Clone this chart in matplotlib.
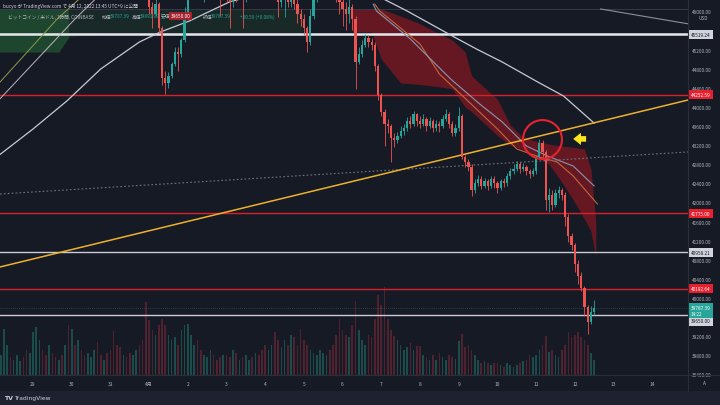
import numpy as np
import matplotlib
matplotlib.use("Agg")
import matplotlib.pyplot as plt
from matplotlib.ticker import FuncFormatter
from matplotlib.patches import Rectangle

plt.rcParams["font.family"] = ["Noto Sans CJK JP", "DejaVu Sans"]

W, H = 720, 406

# ---------------------------------------------------------------------------
# BTC/USD, 2-hour candles; time in hours from 29 Mar 00:00 (UTC+9)
# ---------------------------------------------------------------------------
candle_hours = np.arange(-20, 349, 2)
first_open = 47150.0

close = np.array([
    47250, 47400, 47600, 47350, 47500, 47700, 47850, 47600, 47450, 47550,                # 28
    47650, 47800, 47900, 47700, 47500, 47600, 47400, 47300, 47500, 47300, 47400, 47250,  # 29
    47300, 47100, 47200, 47000, 46900, 47100, 47300, 47500, 47300, 47200, 47400, 47300,  # 30
    47200, 47000, 46900, 46800, 46900, 46700, 46600, 46800, 46900, 46700, 46550, 46400,  # 31
    46100, 45950, 46150, 45650, 44600, 44500, 44650, 44900, 45150, 45100, 45400, 45950,  # 1
    46400, 46600, 46800, 46700, 46500, 46600, 46900, 47000, 46800, 46700, 46500, 46600,  # 2
    46300, 46200, 46400, 46350, 46500, 46300, 46400, 46600, 46500, 46700, 46600, 46500,  # 3
    46450, 46500, 46600, 46400, 46200, 46300, 46350, 46200, 46300, 46150, 45950, 45850,  # 4
    45650, 45350, 45900, 46300, 46500, 46700, 46800, 46900, 46700, 46500, 46300, 46200,  # 5
    46050, 45950, 46100, 45850, 44950, 45100, 45300, 45450, 45350, 45300, 44850, 44250,  # 6
    43900, 43650, 43600, 43350, 43300, 43400, 43500, 43550, 43700, 43650, 43850, 43700,  # 7
    43650, 43750, 43600, 43700, 43550, 43650, 43600, 43750, 43850, 43650, 43450, 43550,  # 8
    43800, 42950, 42850, 42750, 42250, 42400, 42500, 42350, 42450, 42350, 42500, 42400,  # 9
    42300, 42450, 42400, 42550, 42650, 42700, 42800, 42700, 42750, 42650, 42600, 42650,  # 10
    42950, 43250, 43050, 42050, 42150, 41950, 42200, 42250, 42150, 41700, 41300, 41100,  # 11
    40700, 40450, 40200, 39800, 39500, 39700, 39787.39,                                  # 12
])
high = np.array([
    47350, 47480, 47700, 47650, 47580, 47780, 47950, 47900, 47650, 47620,
    47720, 47900, 48050, 47950, 47750, 47680, 47650, 47450, 47580, 47550, 47480, 47450,
    47400, 47350, 47300, 47250, 47050, 47150, 47380, 47600, 47550, 47350, 47450, 47480,
    47350, 47250, 47050, 46950, 46980, 46950, 46750, 46850, 47000, 46950, 46750, 46600,
    46450, 46200, 46250, 46200, 45700, 44750, 44720, 44950, 45250, 45250, 45450, 46100,
    46500, 46750, 46950, 46900, 46800, 46700, 47000, 47200, 47050, 46850, 46750, 46700,
    46650, 46450, 46500, 46600, 46650, 46550, 46500, 46700, 46800, 46850, 46750, 46650,
    46650, 46700, 46750, 46700, 46500, 46400, 46500, 46450, 46400, 46350, 46250, 46050,
    45950, 45700, 46050, 46400, 46650, 46850, 46950, 47050, 46950, 46800, 46550, 46400,
    46300, 46200, 46250, 46150, 45900, 45250, 45400, 45530, 45500, 45450, 45350, 44900,
    44300, 43950, 43750, 43650, 43450, 43480, 43600, 43650, 43780, 43800, 43920, 43880,
    43800, 43850, 43780, 43780, 43750, 43720, 43700, 43820, 43960, 43900, 43700, 43650,
    44000, 43850, 43000, 42900, 42800, 42500, 42580, 42550, 42520, 42500, 42560, 42550,
    42450, 42500, 42520, 42620, 42720, 42800, 42870, 42850, 42820, 42780, 42700, 42720,
    43000, 43330, 43300, 43100, 42300, 42250, 42280, 42340, 42300, 42220, 41750, 41350,
    41150, 40800, 40550, 40250, 39850, 39830, 39950,
])
low = np.array([
    47100, 47200, 47350, 47280, 47300, 47450, 47650, 47500, 47380, 47400,
    47480, 47600, 47750, 47620, 47420, 47450, 47350, 47200, 47250, 47220, 47250, 47150,
    47150, 47050, 47050, 46900, 46800, 46850, 47050, 47250, 47250, 47100, 47150, 47200,
    47100, 46950, 46800, 46700, 46750, 46620, 46500, 46550, 46750, 46650, 46450, 46320,
    45950, 45650, 45900, 45550, 44450, 44270, 44400, 44600, 44850, 44750, 45050, 45350,
    45900, 46300, 46550, 46550, 46350, 46200, 46550, 46800, 46650, 46450, 45900, 46400,
    46200, 45650, 46100, 46200, 46250, 45650, 46200, 46300, 46350, 46450, 46400, 46350,
    46350, 46400, 46450, 46250, 45880, 46100, 45880, 46100, 46100, 46050, 45750, 45700,
    45500, 45150, 45300, 45850, 46200, 46500, 46600, 46750, 46550, 46400, 46200, 45950,
    45700, 45600, 45750, 45600, 44380, 44900, 45050, 45250, 45250, 45200, 44750, 44150,
    43800, 43180, 43450, 42850, 43150, 43250, 43350, 43420, 43500, 43550, 43600, 43600,
    43550, 43600, 43500, 43550, 43480, 43500, 43480, 43550, 43700, 43550, 43380, 43400,
    43500, 42900, 42750, 42650, 42130, 42200, 42350, 42280, 42300, 42250, 42300, 42300,
    42200, 42250, 42320, 42350, 42500, 42600, 42650, 42620, 42650, 42580, 42520, 42550,
    42600, 42900, 42950, 41850, 41800, 41850, 41900, 42100, 42050, 41500, 41170, 41000,
    40550, 40300, 40150, 39620, 39250, 39450, 39650,
])
volume = np.array([
    20, 46, 30, 18, 15, 20, 14, 18, 25, 22,
    43, 48, 35, 25, 20, 30, 22, 18, 15, 20, 30, 50,
    46, 30, 35, 25, 20, 22, 18, 25, 33, 20, 15, 22,
    25, 44, 30, 28, 20, 18, 22, 20, 25, 30, 35, 73,
    55, 45, 40, 50, 56, 50, 40, 35, 38, 30, 45, 50,
    51, 40, 30, 35, 25, 20, 18, 25, 20, 15, 18, 20,
    20, 18, 25, 22, 15, 18, 20, 15, 18, 22, 20, 25,
    30, 25, 30, 43, 35, 28, 35, 30, 40, 38, 30, 46,
    35, 30, 25, 22, 20, 25, 22, 20, 25, 30, 40, 56,
    45, 40, 38, 50, 74, 45, 35, 30, 40, 38, 56, 80,
    70, 88, 56, 45, 39, 35, 30, 25, 28, 32, 25, 29,
    29, 20, 18, 15, 20, 15, 22, 18, 15, 20, 18, 16,
    34, 41, 28, 30, 25, 20, 15, 12, 14, 12, 10, 12,
    12, 10, 8, 12, 10, 8, 10, 12, 14, 15, 20, 18,
    20, 25, 30, 39, 23, 25, 20, 18, 25, 30, 43, 38,
    40, 43, 38, 35, 30, 22, 15,
])

# Indicator overlays (hour, price)
kumo_green_h = [-21, 16, 22, 40, 167]
kumo_green_top = [46050, 46050, 46050, 46050, 46050]
kumo_green_bot = [45150, 45150, 45450, 45560, 45560]

kumo_red_h = [198, 204, 210, 216, 228, 240, 252, 260, 268, 272, 280, 288,
              296, 304, 312, 320, 328, 336, 342, 346, 349]
kumo_red_top = [46050, 46050, 46050, 46050, 45900, 45740, 45530, 45400, 45150, 44650,
                44400, 44160, 43620, 43360, 43280, 43220, 43180, 43150, 43120, 42700, 41600]
kumo_red_bot = [45570, 45570, 45570, 45000, 44500, 44470, 44420, 44380, 44000, 43900,
                43650, 43400, 43200, 43100, 42950, 42800, 42420, 42000, 41650, 41400, 40850]

ma_long_h = [-21, 0, 21, 42, 66, 79, 97, 110, 122, 150, 180, 200, 215, 232,
             260, 275, 291, 313, 329, 348]
ma_long_p = [42990, 43537, 44124, 44794, 45359, 45568, 45799, 46008, 46200, 46450,
             46550, 46500, 46300, 46008, 45485, 45212, 44940, 44521, 44228, 43660]

ma_orange_h = [212, 215, 240, 252, 273, 288, 300, 314, 325, 335, 350]
ma_orange_p = [46150, 46008, 45317, 44689, 44019, 43537, 43118, 42951, 42846, 42553, 41967]

ma_gray_h = [211, 213, 234, 259, 277, 291, 306, 319, 335, 348]
ma_gray_p = [46150, 46008, 45422, 44584, 44061, 43684, 43181, 42972, 42762, 42344]

span_a_h = [-21, 15, 30]
span_a_p = [44500, 45840, 46300]
span_b_h = [-21, 26, 40]
span_b_p = [44150, 45840, 46300]

upper_trend_h = [352, 406.2]
upper_trend_p = [46050, 45740]

trendline_h = [-20.47, 406.2]
trendline_p = [40648, 44144]
dotted_h = [-20.47, 406.2]
dotted_p = [42176, 43056]

# Horizontal levels: (price, kind)
levels = [
    (45519.24, "white"),
    (44252.59, "red"),
    (41775.00, "red"),
    (40958.21, "gray"),
    (40192.64, "red"),
    (39650.00, "gray"),
]

day_ticks = np.arange(0, 17) * 24
day_labels = ["29", "30", "31", "4月", "2", "3", "4", "5", "6", "7", "8",
              "9", "10", "11", "12", "13", "14"]
price_ticks = np.arange(38400, 46001, 400)

# ---------------------------------------------------------------------------
BG = "#161a25"
FOOT = "#1e2130"
UP = "#26a69a"
DN = "#ef5350"
TXT = "#b2b5be"

fig = plt.figure(figsize=(W / 100, H / 100), dpi=100)
fig.patch.set_facecolor(BG)

rect = [0, 30 / H, 688 / W, 376 / H]
vax = fig.add_axes(rect)
ax = fig.add_axes(rect)
vax.set_zorder(0)
ax.set_zorder(1)
ax.patch.set_visible(False)

xlim = (-20.47, 406.2)
ylim = (38386, 46259)
ax.set_xlim(*xlim)
ax.set_ylim(*ylim)

# volume
opens = np.concatenate([[first_open], close[:-1]])
up = close >= opens
vax.set_xlim(*xlim)
vax.set_ylim(0, volume.max() * 376 / 88)
vcols = np.where(up, "#1d5c58", "#642533")
vax.bar(candle_hours, volume, width=1.0, color=vcols, alpha=0.75, linewidth=0)
vax.axis("off")

# clouds
ax.fill_between(kumo_green_h, kumo_green_bot, kumo_green_top, color="#1d3d2c", alpha=0.45,
                lw=0, zorder=1)
ax.fill_between(kumo_green_h[:3], kumo_green_bot[:3], kumo_green_top[:3], color="#1f4a30",
                alpha=0.9, lw=0, zorder=1)
ax.fill_between(kumo_red_h, kumo_red_bot, kumo_red_top, color="#6e1822", alpha=0.9,
                lw=0, zorder=1)

# horizontal levels
lvl_style = {"white": ("#e6e8ee", 1.8), "red": ("#d8202c", 1.0), "gray": ("#c9ccd6", 1.0)}
for p, kind in levels:
    c, lw = lvl_style[kind]
    ax.axhline(p, color=c, lw=lw, zorder=2)
ax.axhline(46050, color="#3a3f4e", lw=0.6, zorder=1.5)

# moving-average style lines
ax.plot(ma_long_h, ma_long_p, color="#c7cad6", lw=0.9, zorder=2)
ax.plot(ma_orange_h, ma_orange_p, color="#c0673c", lw=0.8, zorder=2)
ax.plot(ma_gray_h, ma_gray_p, color="#8a96b0", lw=0.8, zorder=2)
ax.plot(span_a_h, span_a_p, color="#8f9a4c", lw=0.7, zorder=2)
ax.plot(span_b_h, span_b_p, color="#c2b3c0", lw=0.7, zorder=2)
ax.plot(upper_trend_h, upper_trend_p, color="#8a8f9e", lw=0.8, zorder=2)

# trend line and dotted guide
ax.plot(dotted_h, dotted_p, color="#6f7483", lw=0.8, ls=(0, (1.5, 2)), zorder=2)
ax.plot(trendline_h, trendline_p, color="#eeb12c", lw=1.1, zorder=3)

# current price line
ax.axhline(close[-1], color=UP, lw=0.5, ls=(0, (1, 2)), alpha=0.6, zorder=2)

# candles
ccols = np.where(up, UP, DN)
ax.vlines(candle_hours, low, high, colors=ccols, lw=0.6, zorder=4)
body_lo = np.minimum(opens, close)
body_h = np.maximum(np.abs(close - opens), 12)
ax.bar(candle_hours, body_h, bottom=body_lo, width=1.4, color=ccols, lw=0, zorder=4)

# highlight the rejection at the trend line
pk = int(np.argmax(np.where(candle_hours >= 300, high, 0)))
ax.plot(candle_hours[pk] + 1.5, high[pk], "o", ms=28, mfc="none", mec="#e8222e",
        mew=1.5, zorder=6)
ax.annotate("", xy=(candle_hours[pk] + 21, high[pk]), xytext=(candle_hours[pk] + 29, high[pk]),
            arrowprops=dict(arrowstyle="simple,head_length=0.7,head_width=1.1,tail_width=0.5",
                            fc="#ffe81a", ec="none", mutation_scale=8,
                            shrinkA=0, shrinkB=0), zorder=6)

# axes styling
for s in ax.spines.values():
    s.set_visible(False)

# price-axis tags: (price, box colour, text colour, vertical shift in points, text)
tag_style = {"white": ("#d1d4dc", "#131722"), "red": ("#e8202e", "#ffffff"),
             "gray": ("#d1d4dc", "#131722")}
tags = []
for p, kind in levels:
    fc, tc = tag_style[kind]
    dy = -4.5 if p == 39650.00 else 0
    tags.append((p, fc, tc, dy, f"{p:.2f}"))
tags.append((close[-1], UP, "white", -1.8, f"{close[-1]:.2f}\n14:22"))

# data units per pixel on the price axis
ppx = (ylim[1] - ylim[0]) / 376.0


def tag_px(p, dy):
    return (ylim[1] - p) / ppx - dy / 0.72


tag_rows = [tag_px(p, dy) for p, _, _, dy, _ in tags]
shown_ticks = [t for t in price_ticks
               if min(abs((ylim[1] - t) / ppx - r) for r in tag_rows) > 5.5]

ax.yaxis.tick_right()
ax.set_yticks(shown_ticks)
ax.yaxis.set_major_formatter(FuncFormatter(lambda v, _: f"{v:.2f}"))
ax.tick_params(axis="y", length=0, pad=2.5, labelsize=3.4, labelcolor=TXT)
ax.set_xticks(day_ticks)
ax.set_xticklabels(day_labels)
ax.tick_params(axis="x", length=0, pad=4, labelsize=3.5, labelcolor=TXT)

for p, fc, tc, dy, t in tags:
    ax.annotate(t, xy=(1, p), xycoords=("axes fraction", "data"),
                xytext=(2.2, dy), textcoords="offset points", ha="left", va="center",
                fontsize=3.4, color=tc, linespacing=1.15, zorder=8, annotation_clip=False,
                bbox=dict(boxstyle="square,pad=0.45", fc=fc, ec="none"))
fig.text(703 / W, 1 - 18 / H, "USD", fontsize=3.4, color=TXT, ha="center", va="center")

# frame lines
fig.add_artist(plt.Line2D([688 / W, 688 / W], [14 / H, 1], color="#2a2e39", lw=0.8))
fig.add_artist(plt.Line2D([0, 1], [30 / H, 30 / H], color="#2a2e39", lw=0.8))
fig.text(704 / W, 1 - 384 / H, "A", fontsize=3.5, color=TXT, ha="center", va="center")

# footer
fig.add_artist(Rectangle((0, 0), 1, 14 / H, transform=fig.transFigure, fc=FOOT, ec="none"))
fig.text(4 / W, 7 / H, "TV", fontsize=4.5, color="#d1d4dc", weight="bold", va="center",
         family="DejaVu Sans")
fig.text(14 / W, 7 / H, "TradingView", fontsize=4.3, color="#d1d4dc", va="center",
         family="DejaVu Sans")

# header
fig.text(3 / W, 1 - 6 / H, "bucyo が TradingView.com で 4月 12, 2022 13:45 UTC+9 に公開",
         fontsize=3.4, color="#d1d4dc", va="center")
row = 1 - 17 / H
hdr = [
    (8, "ビットコイン / 米ドル, 1時間, COINBASE", TXT),
    (102, "始値", TXT), (110, "39707.39", UP),
    (132, "高値", TXT), (140, "39891.09", UP),
    (161, "安値", TXT),
    (203, "終値", TXT), (211, "39787.39", UP),
    (240, "+30.59 (+0.08%)", UP),
]
for xp, t, c in hdr:
    fig.text(xp / W, row, t, fontsize=3.4, color=c, va="center")
fig.text(171 / W, row, "39650.00", fontsize=3.4, color="white", va="center",
         bbox=dict(boxstyle="square,pad=0.35", fc="#a3222e", ec="none"))

fig.savefig("out.png", dpi=100, facecolor=BG)
